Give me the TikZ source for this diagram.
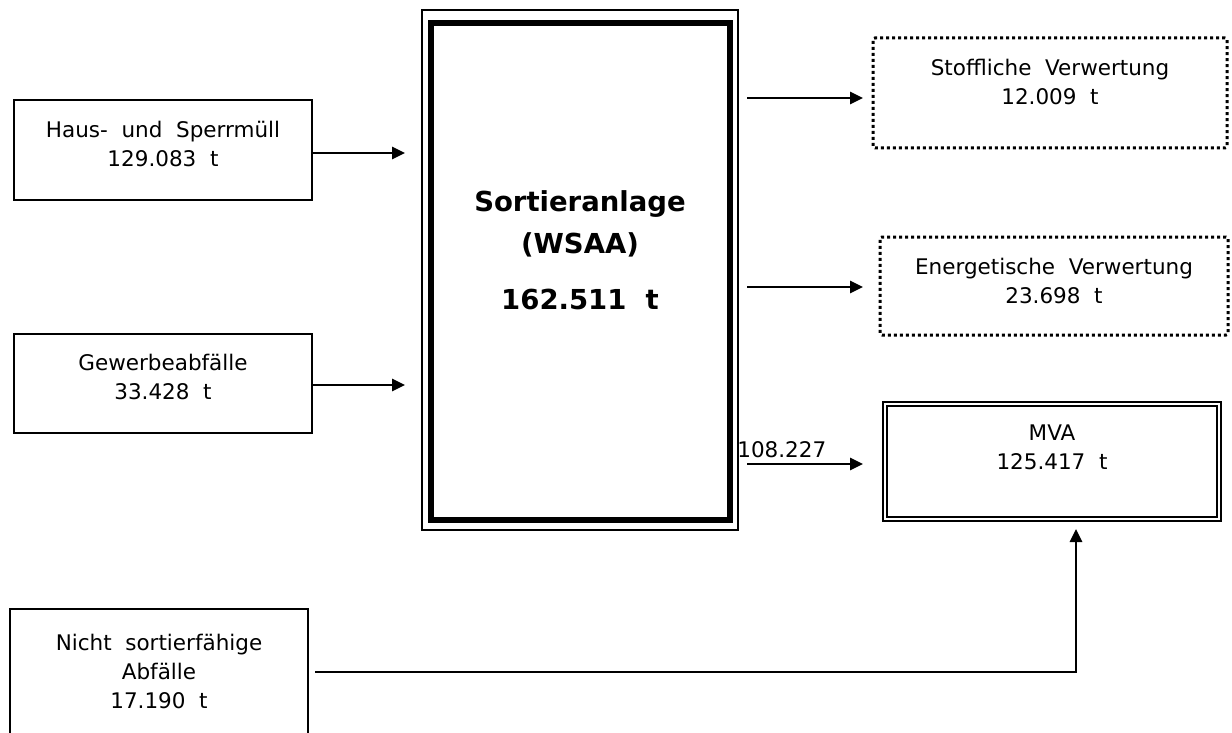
\documentclass[tikz,border=0pt]{standalone}
\usepackage{fontspec}
\setmainfont{DejaVu Sans}[WordSpace=2]
\usetikzlibrary{arrows.meta}
\tikzset{
  box/.style={draw, line width=2pt, minimum width=#1, inner sep=0pt},
  txt/.style={align=center, font=\fontsize{21.5}{29}\selectfont, inner sep=0pt},
  bigtxt/.style={align=center, font=\fontsize{27.5}{42}\selectfont\bfseries, inner sep=0pt},
  dotbox/.style={draw, line width=3pt, dash pattern=on 3pt off 3pt, rounded corners=2pt},
  arr/.style={line width=2.8pt, -{Triangle[length=13pt,width=12pt]}},
}
\begin{document}
\begin{tikzpicture}[x=1pt,y=-1pt]
\useasboundingbox[fill=white] (0,0) rectangle (1232,733);
% input boxes
\node[box=298pt, minimum height=100pt] (haus) at (163,150) {};
\node[txt] (haust) at (163,144) {Haus- und Sperrmüll\\129.083 t};
\node[box=298pt, minimum height=99pt] (gew) at (163,383.5) {};
\node[txt] (gewt) at (163,377) {Gewerbeabfälle\\33.428 t};
\node[box=298pt, minimum height=140pt] (nicht) at (159,679) {};
\node[txt] (nichtt) at (159,671) {Nicht sortierfähige\\Abfälle\\17.190 t};
% Sortieranlage
\node[draw, line width=2pt, minimum width=316pt, minimum height=520pt, inner sep=0pt] (sort) at (580,270) {};
\node[draw, line width=6pt, minimum width=299.5pt, minimum height=497pt, inner sep=0pt] (sortin) at (580.25,271.5) {};
\node[bigtxt] (sortt) at (580,250) {Sortieranlage\\(WSAA)\\[14pt]162.511 t};
% output boxes
\node[dotbox, minimum width=354pt, minimum height=110pt, inner sep=0pt] (stoff) at (1050,93) {};
\node[txt] (stofft) at (1050,82) {Stoffliche Verwertung\\12.009 t};
\node[dotbox, minimum width=348pt, minimum height=98pt, inner sep=0pt] (energ) at (1054,286) {};
\node[txt] (energt) at (1054,281) {Energetische Verwertung\\23.698 t};
\node[draw, double, line width=1.8pt, double distance=2.6pt, minimum width=334pt, minimum height=115pt, inner sep=0pt] (mva) at (1052,461.5) {};
\node[txt] (mvat) at (1052,447) {MVA\\125.417 t};
% connectors
\coordinate (a1) at (405,153);
\coordinate (a2) at (405,385);
\draw[arr] (haus.east |- a1) -- (a1);
\draw[arr] (gew.east |- a2) -- (a2);
\coordinate (o1s) at (747,98);  \coordinate (o1e) at (863,98);
\coordinate (o2s) at (747,287); \coordinate (o2e) at (863,287);
\coordinate (o3s) at (747,464); \coordinate (o3e) at (863,464);
\draw[arr] (o1s) -- (o1e);
\draw[arr] (o2s) -- (o2e);
\draw[arr] (o3s) -- (o3e) node[pos=0.3, above=5pt, font=\fontsize{21.5}{25}\selectfont, inner sep=0pt] (lab) {108.227};
\coordinate (nl) at (315,672);
\coordinate (corner) at (1076,672);
\coordinate (tip) at (1076,529);
\draw[arr] (nl) -- (corner) -- (tip);
\end{tikzpicture}
\end{document}
